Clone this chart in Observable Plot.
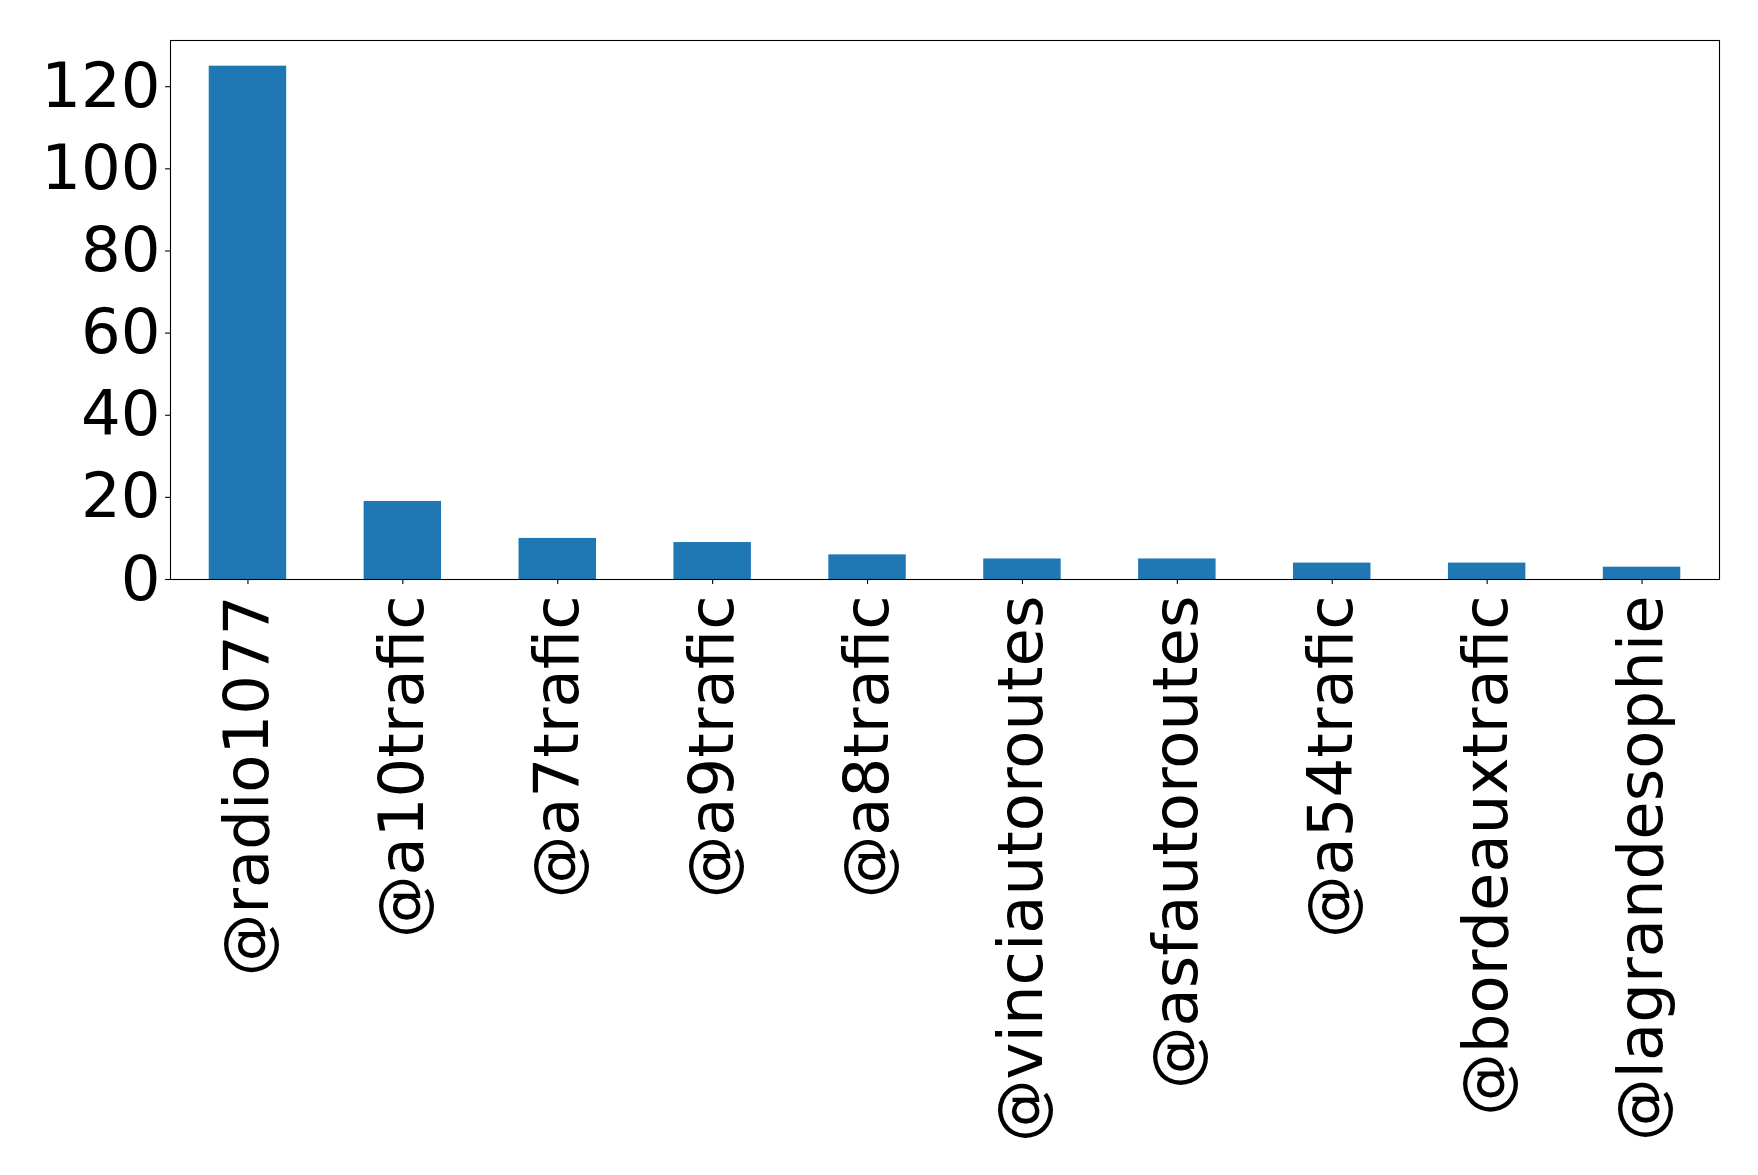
<!DOCTYPE html>
<html>
<head>
<meta charset="utf-8">
<script src="https://cdn.jsdelivr.net/npm/d3@7"></script>
<script src="https://cdn.jsdelivr.net/npm/@observablehq/plot@0.6"></script>
<style>
  html, body { margin: 0; padding: 0; background: #fff; }
  svg { display: block; }
</style>
</head>
<body>
<div id="chart"></div>
<script>
// Most active accounts and their mention counts
const accounts = [
  "@radio1077", "@a10trafic", "@a7trafic", "@a9trafic", "@a8trafic",
  "@vinciautoroutes", "@asfautoroutes", "@a54trafic", "@bordeauxtrafic", "@lagrandesophie"
];
const counts = [125, 19, 10, 9, 6, 5, 5, 4, 4, 3];
const yTicks = [0, 20, 40, 60, 80, 100, 120];

const data = accounts.map((account, i) => ({ account, count: counts[i] }));

const chart = Plot.plot({
  width: 1758,
  height: 1175,
  marginLeft: 170,
  marginRight: 39,
  marginTop: 40,
  marginBottom: 596,
  style: { fontFamily: "'DejaVu Sans', sans-serif", color: "black", background: "white" },
  x: { domain: accounts, paddingInner: 0.5, paddingOuter: 0.25, round: false, label: null },
  y: { domain: [0, d3.max(counts) * 1.05], label: null },
  marks: [
    Plot.barY(data, { x: "account", y: "count", fill: "#1f77b4" }),
    Plot.frame({ stroke: "black", strokeWidth: 1.1 }),
    Plot.axisY({ ticks: yTicks, tickSize: 4.9, tickPadding: 5, fontSize: 62.5, label: null, strokeWidth: 1.1 }),
    Plot.axisX({ tickRotate: -90, tickSize: 4.9, tickPadding: 11, fontSize: 62.5, label: null, strokeWidth: 1.1 })
  ]
});

document.getElementById("chart").appendChild(chart);
</script>
</body>
</html>
